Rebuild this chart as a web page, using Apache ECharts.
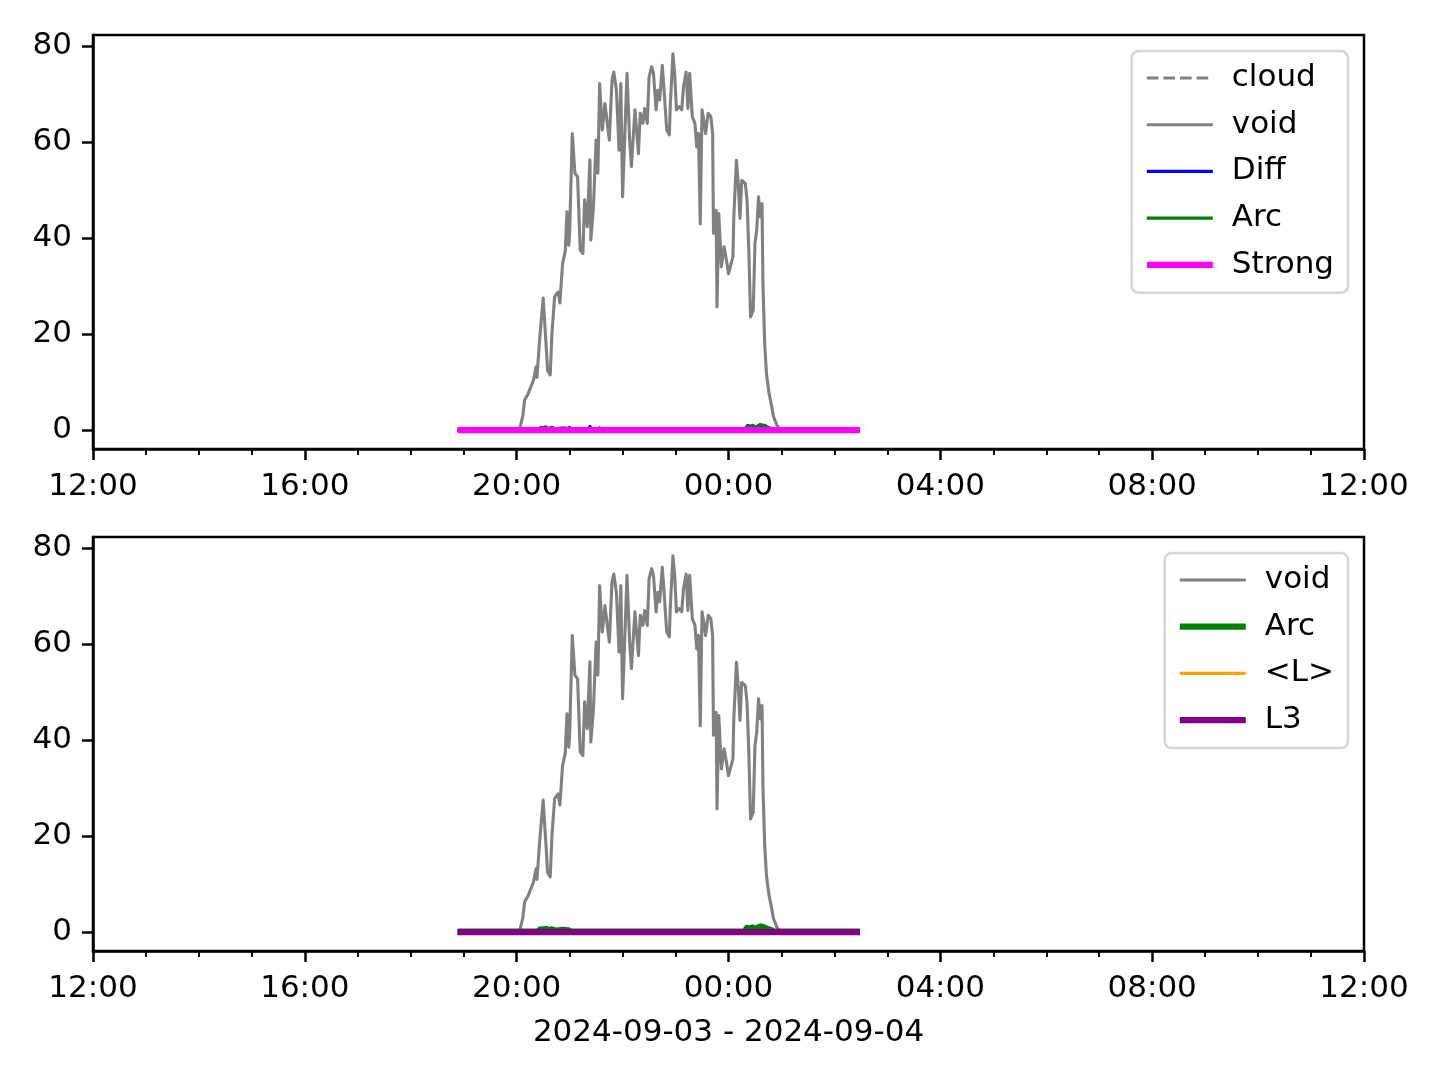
<!DOCTYPE html>
<html>
<head>
<meta charset="utf-8">
<script src="https://cdn.jsdelivr.net/npm/echarts@6/dist/echarts.min.js"></script>
<style>
html,body{margin:0;padding:0;background:#fff;}
#chart{width:1440px;height:1080px;}
</style>
</head>
<body>
<div id="chart"></div>
<script>
// ---------- data ----------
const xStart = '2024-09-03 12:00';
const xEnd = '2024-09-04 12:00';
const xTickLabels = ['12:00', '16:00', '20:00', '00:00', '04:00', '08:00', '12:00'];
const yTicks = [0, 20, 40, 60, 80];
const xAxisTitle = '2024-09-03 - 2024-09-04';

const voidData = [
  ['2024-09-03 18:53', 0], ['2024-09-03 20:01', 0], ['2024-09-03 20:04', 0.7], ['2024-09-03 20:07', 3],
  ['2024-09-03 20:09', 6.3], ['2024-09-03 20:13', 7.6], ['2024-09-03 20:16', 9], ['2024-09-03 20:19', 10.4],
  ['2024-09-03 20:22', 13.2], ['2024-09-03 20:23', 11], ['2024-09-03 20:26', 18.8], ['2024-09-03 20:30', 27.5],
  ['2024-09-03 20:33', 18.8], ['2024-09-03 20:35', 12.5], ['2024-09-03 20:38', 11.5], ['2024-09-03 20:40', 20.2],
  ['2024-09-03 20:43', 27.8], ['2024-09-03 20:47', 28.8], ['2024-09-03 20:49', 26.5], ['2024-09-03 20:52', 34.7],
  ['2024-09-03 20:55', 37.2], ['2024-09-03 20:57', 45.5], ['2024-09-03 20:59', 38.5], ['2024-09-03 21:00', 41],
  ['2024-09-03 21:03', 61.8], ['2024-09-03 21:06', 53.5], ['2024-09-03 21:09', 52.8], ['2024-09-03 21:12', 37.5],
  ['2024-09-03 21:15', 36.8], ['2024-09-03 21:17', 48], ['2024-09-03 21:20', 42.4], ['2024-09-03 21:23', 56.3],
  ['2024-09-03 21:24', 39.6], ['2024-09-03 21:27', 46.5], ['2024-09-03 21:30', 60.4], ['2024-09-03 21:32', 53.5],
  ['2024-09-03 21:34', 72.2], ['2024-09-03 21:37', 62.5], ['2024-09-03 21:40', 68], ['2024-09-03 21:45', 60.4],
  ['2024-09-03 21:48', 72.9], ['2024-09-03 21:50', 74.6], ['2024-09-03 21:53', 70.8], ['2024-09-03 21:56', 58.3],
  ['2024-09-03 21:58', 72.2], ['2024-09-03 22:00', 48.6], ['2024-09-03 22:03', 63.9], ['2024-09-03 22:05', 74.3],
  ['2024-09-03 22:08', 60.4], ['2024-09-03 22:10', 54.9], ['2024-09-03 22:14', 66.7], ['2024-09-03 22:18', 57.6],
  ['2024-09-03 22:20', 66], ['2024-09-03 22:23', 63.9], ['2024-09-03 22:25', 67], ['2024-09-03 22:28', 63.9],
  ['2024-09-03 22:30', 73.6], ['2024-09-03 22:33', 75.7], ['2024-09-03 22:35', 74.3], ['2024-09-03 22:38', 66.7],
  ['2024-09-03 22:40', 70.8], ['2024-09-03 22:42', 68.8], ['2024-09-03 22:45', 76], ['2024-09-03 22:47', 70.8],
  ['2024-09-03 22:50', 62.5], ['2024-09-03 22:53', 61.5], ['2024-09-03 22:54', 67.4], ['2024-09-03 22:57', 78.4],
  ['2024-09-03 22:59', 74.3], ['2024-09-03 23:01', 66.7], ['2024-09-03 23:04', 67.4], ['2024-09-03 23:07', 66.7],
  ['2024-09-03 23:09', 71.5], ['2024-09-03 23:12', 74.6], ['2024-09-03 23:14', 67], ['2024-09-03 23:16', 74.3],
  ['2024-09-03 23:19', 65.3], ['2024-09-03 23:22', 63.9], ['2024-09-03 23:24', 59], ['2024-09-03 23:26', 61.8],
  ['2024-09-03 23:28', 43], ['2024-09-03 23:30', 66.7], ['2024-09-03 23:32', 64.6], ['2024-09-03 23:34', 61.8],
  ['2024-09-03 23:37', 66], ['2024-09-03 23:40', 65.3], ['2024-09-03 23:42', 61.8], ['2024-09-03 23:43', 41],
  ['2024-09-03 23:46', 45.8], ['2024-09-03 23:47', 25.7], ['2024-09-03 23:49', 45.1], ['2024-09-03 23:52', 34],
  ['2024-09-03 23:55', 38.2], ['2024-09-03 23:58', 35], ['2024-09-04 00:00', 32.6], ['2024-09-04 00:02', 32.6],
  ['2024-09-04 00:05', 36.1], ['2024-09-04 00:06', 44.4], ['2024-09-04 00:09', 56.2], ['2024-09-04 00:11', 51.4],
  ['2024-09-04 00:13', 44.1], ['2024-09-04 00:15', 52], ['2024-09-04 00:19', 51.4], ['2024-09-04 00:21', 47.9],
  ['2024-09-04 00:23', 37.5], ['2024-09-04 00:25', 23.6], ['2024-09-04 00:28', 25], ['2024-09-04 00:30', 38.9],
  ['2024-09-04 00:32', 41.7], ['2024-09-04 00:34', 48.6], ['2024-09-04 00:36', 44.4], ['2024-09-04 00:38', 47.2],
  ['2024-09-04 00:39', 30.6], ['2024-09-04 00:41', 18], ['2024-09-04 00:43', 11.8], ['2024-09-04 00:46', 7.6],
  ['2024-09-04 00:49', 4.9], ['2024-09-04 00:51', 2.8], ['2024-09-04 00:55', 1], ['2024-09-04 00:58', 0.3],
  ['2024-09-04 01:04', 0], ['2024-09-04 02:29', 0]
];

const cloudData = [['2024-09-03 18:53', 0], ['2024-09-04 02:29', 0]];

const diffData = [
  ['2024-09-03 18:53', 0], ['2024-09-03 20:38', 0], ['2024-09-03 20:40', 0.5], ['2024-09-03 20:42', 0],
  ['2024-09-03 20:58', 0], ['2024-09-03 21:00', 0.6], ['2024-09-03 21:02', 0], ['2024-09-03 21:21', 0],
  ['2024-09-03 21:23', 0.8], ['2024-09-03 21:25', 0], ['2024-09-03 21:32', 0], ['2024-09-03 21:34', 0.5],
  ['2024-09-03 21:36', 0], ['2024-09-04 00:19', 0], ['2024-09-04 00:22', 1.0], ['2024-09-04 00:25', 0.8],
  ['2024-09-04 00:28', 1.0], ['2024-09-04 00:31', 0], ['2024-09-04 00:35', 0], ['2024-09-04 00:37', 0.9],
  ['2024-09-04 00:41', 1.0], ['2024-09-04 00:44', 0.6], ['2024-09-04 00:46', 0], ['2024-09-04 02:29', 0]
];

const arcData = [
  ['2024-09-03 18:53', 0.1], ['2024-09-03 20:24', 0.1], ['2024-09-03 20:27', 0.6], ['2024-09-03 20:30', 0.5],
  ['2024-09-03 20:33', 0.7], ['2024-09-03 20:36', 0.4], ['2024-09-03 20:40', 0.6], ['2024-09-03 20:44', 0.3],
  ['2024-09-03 20:52', 0.5], ['2024-09-03 20:58', 0.4], ['2024-09-03 21:02', 0.1], ['2024-09-03 21:21', 0.1],
  ['2024-09-03 21:23', 0.5], ['2024-09-03 21:25', 0.1], ['2024-09-03 23:22', 0.1], ['2024-09-03 23:24', 0.5],
  ['2024-09-03 23:26', 0.1], ['2024-09-04 00:18', 0.1], ['2024-09-04 00:21', 0.9], ['2024-09-04 00:24', 0.7],
  ['2024-09-04 00:27', 1.0], ['2024-09-04 00:30', 0.6], ['2024-09-04 00:33', 0.9], ['2024-09-04 00:36', 1.2],
  ['2024-09-04 00:40', 1.0], ['2024-09-04 00:44', 0.7], ['2024-09-04 00:48', 0.4], ['2024-09-04 00:52', 0.1],
  ['2024-09-04 02:29', 0.1]
];

const strongData = [['2024-09-03 18:53', 0], ['2024-09-04 02:29', 0]];
const lMeanData = [['2024-09-03 18:53', 0], ['2024-09-04 02:29', 0]];
const l3Data = [['2024-09-03 18:53', 0], ['2024-09-04 02:29', 0]];

// ---------- helpers ----------
function ts(s) { return Date.parse(s.replace(' ', 'T') + ':00Z'); }
function conv(arr) { return arr.map(p => [ts(p[0]), p[1]]); }

const HOUR = 3600 * 1000;
const X_MIN = ts(xStart);
const X_MAX = ts(xEnd);
const X_INT = 4 * HOUR;
const Y_MIN = -3.92;
const Y_MAX = 82.3;
const FONT = 'DejaVu Sans';
const LW1 = 3.1;
const LW2 = 6.25;
const DASH = [11.6, 5];

function xAxisCfg(gi, withName) {
  const a = {
    type: 'value', gridIndex: gi, min: X_MIN, max: X_MAX, interval: X_INT,
    axisLine: { show: true, onZero: false, lineStyle: { color: '#000', width: 2.5 } },
    axisTick: { show: true, length: 11, lineStyle: { color: '#000', width: 2.5 } },
    minorTick: { show: true, splitNumber: 4, length: 6, lineStyle: { color: '#000', width: 1.9 } },
    splitLine: { show: false }, minorSplitLine: { show: false },
    axisLabel: {
      margin: 22, color: '#000', fontFamily: FONT, fontSize: 31,
      formatter: v => xTickLabels[Math.round((v - X_MIN) / X_INT)]
    }
  };
  if (withName) {
    a.name = xAxisTitle;
    a.nameLocation = 'middle';
    a.nameGap = 66;
    a.nameTextStyle = { color: '#000', fontFamily: FONT, fontSize: 31 };
  }
  return a;
}
function yAxisCfg(gi) {
  return {
    type: 'value', gridIndex: gi, min: Y_MIN, max: Y_MAX,
    axisLine: { show: true, onZero: false, lineStyle: { color: '#000', width: 2.5 } },
    axisTick: { show: true, length: 11, customValues: yTicks, lineStyle: { color: '#000', width: 2.5 } },
    splitLine: { show: false },
    axisLabel: { customValues: yTicks, margin: 21, color: '#000', fontFamily: FONT, fontSize: 31 }
  };
}
function line(name, data, color, width, idx, dash) {
  return {
    type: 'line', name: name, xAxisIndex: idx, yAxisIndex: idx, data: conv(data),
    symbol: 'none', showSymbol: false, silent: true,
    lineStyle: { color: color, width: width, type: dash || 'solid', join: 'round', cap: 'butt' },
    itemStyle: { color: color }
  };
}
function item(name, color, width, dash) {
  return {
    name: name,
    itemStyle: { color: 'rgba(0,0,0,0)', borderColor: 'rgba(0,0,0,0)', borderWidth: 0, opacity: 0 },
    lineStyle: { color: color, width: width, type: dash || 'solid', opacity: 1 }
  };
}
function legendCfg(items, top, fmt) {
  return {
    orient: 'vertical', right: 92, top: top,
    data: items, selectedMode: false,
    itemWidth: 66, itemHeight: 14, itemGap: 14.7,
    padding: [11, 14, 12, 12],
    borderColor: '#d6d6d6', borderWidth: 2.5, borderRadius: 7,
    backgroundColor: 'rgba(255,255,255,0.8)',
    itemStyle: { color: 'rgba(0,0,0,0)', borderWidth: 0, opacity: 0 },
    textStyle: { color: '#000', fontFamily: FONT, fontSize: 31, lineHeight: 32, padding: [0, 0, 0, 14] },
    formatter: fmt
  };
}

const chart = echarts.init(document.getElementById('chart'), null, { renderer: 'canvas' });
chart.setOption({
  animation: false,
  backgroundColor: '#fff',
  grid: [
    { left: 93, width: 1271, top: 35, height: 414, show: true, borderColor: '#000', borderWidth: 2.5, backgroundColor: 'transparent' },
    { left: 93, width: 1271, top: 537, height: 414, show: true, borderColor: '#000', borderWidth: 2.5, backgroundColor: 'transparent' }
  ],
  xAxis: [xAxisCfg(0, false), xAxisCfg(1, true)],
  yAxis: [yAxisCfg(0), yAxisCfg(1)],
  legend: [
    legendCfg([
      item('cloud', '#808080', LW1, DASH), item('void', '#808080', LW1), item('Diff', '#0000ff', LW1),
      item('Arc', '#008000', LW1), item('Strong', '#ff00ff', LW2)
    ], 51, n => n),
    legendCfg([
      item('void', '#808080', LW1), item('Arc (L3 panel)', '#008000', LW2),
      item('<L>', '#ffa500', LW1), item('L3', '#800080', LW2)
    ], 553, n => n === 'Arc (L3 panel)' ? 'Arc' : n)
  ],
  series: [
    line('cloud', cloudData, '#808080', LW1, 0, DASH),
    line('void', voidData, '#808080', LW1, 0),
    line('Diff', diffData, '#0000ff', LW1, 0),
    line('Arc', arcData, '#008000', LW1, 0),
    line('Strong', strongData, '#ff00ff', LW2, 0),
    line('void', voidData, '#808080', LW1, 1),
    line('Arc (L3 panel)', arcData, '#008000', LW2, 1),
    line('<L>', lMeanData, '#ffa500', LW1, 1),
    line('L3', l3Data, '#800080', LW2, 1)
  ]
});
</script>
</body>
</html>
